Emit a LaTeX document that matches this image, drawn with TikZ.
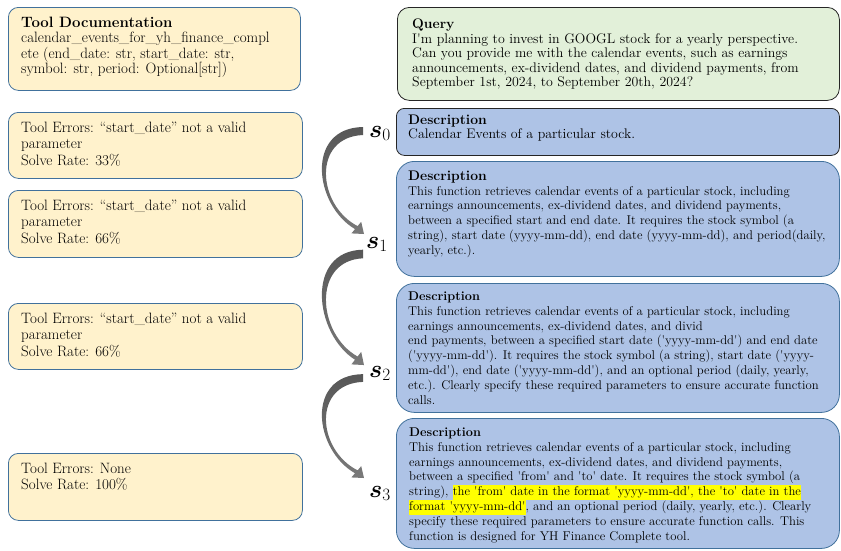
\documentclass[tikz,border=0pt]{standalone}
\usepackage{amsmath}
\usetikzlibrary{calc}
\definecolor{yfill}{HTML}{FFF2CC}
\definecolor{bline}{HTML}{41719C}
\definecolor{qfill}{HTML}{E2F0D9}
\definecolor{dfill}{HTML}{AEC3E6}
\definecolor{dkline}{HTML}{262626}
\definecolor{arrA}{HTML}{575757}
\definecolor{arrB}{HTML}{9C9C9C}
\definecolor{arrC}{HTML}{7A7A7A}
\definecolor{hlyellow}{HTML}{FFFF00}
\newcommand\sq{\textquotesingle}
\newcommand\hlt[1]{{\setlength{\fboxsep}{0pt}\colorbox{hlyellow}{\strut #1}}}
\newcommand\grayarrow[2]{%
  \begin{scope}[shift={#1}, yscale=#2]
    \shade[top color=arrA, middle color=arrB, bottom color=arrC]
      (0,-4) .. controls (-58,-3) and (-49,74) .. (-8,98.1)
      -- (-11.6,102.4) -- (1,103) -- (-1.8,90.8) -- (-5.4,95.1)
      .. controls (-46,74) and (-51,6) .. (0,4) -- cycle;
  \end{scope}}
\begin{document}
\begin{tikzpicture}[x=1pt,y=-1pt,
  ybox/.style={draw=bline, fill=yfill, line width=0.8pt, rounded corners=10pt, anchor=north west, inner sep=0pt},
  qbox/.style={draw=dkline, fill=qfill, line width=0.8pt, rounded corners=12pt, anchor=north west, inner sep=0pt},
  dzbox/.style={draw=dkline, fill=dfill, line width=0.8pt, rounded corners=8pt, anchor=north west, inner sep=0pt},
  dbox/.style={draw=bline, fill=dfill, line width=0.8pt, rounded corners=18pt, anchor=north west, inner sep=0pt},
  ltext/.style={anchor=north west, inner sep=0pt, align=left, font=\fontsize{15}{16.5}\selectfont},
  qtext/.style={anchor=north west, inner sep=0pt, align=left, font=\fontsize{13.9}{14.5}\selectfont},
  dtext/.style={anchor=north west, inner sep=0pt, align=left, font=\fontsize{12.7}{14.8}\selectfont},
  slabel/.style={anchor=base west, inner sep=0pt, font=\fontsize{24}{24}\selectfont},
]
\useasboundingbox (0,0) rectangle (841,550);

% left boxes
\node[ybox, minimum width=292pt, minimum height=83pt] (doc) at (8,7) {};
\node[ybox, minimum width=294pt, minimum height=66pt] (e1) at (8,112) {};
\node[ybox, minimum width=294pt, minimum height=67pt] (e2) at (8,190) {};
\node[ybox, minimum width=294pt, minimum height=66pt] (e3) at (8,303) {};
\node[ybox, minimum width=294pt, minimum height=67pt] (e4) at (8,453) {};

\node[ltext, font=\fontsize{15}{15.5}\selectfont] (doct) at ($(doc.north west)+(13,9.6)$)
  {\textbf{Tool Documentation}\\
   calendar\_events\_for\_yh\_finance\_compl\\
   ete (end\_date: str, start\_date: str,\\
   symbol: str, period: Optional[str])};
\node[ltext] (e1t) at ($(e1.north west)+(13,9.6)$)
  {Tool Errors: ``start\_date'' not a valid\\ parameter\\ Solve Rate: 33\%};
\node[ltext] (e2t) at ($(e2.north west)+(13,9.6)$)
  {Tool Errors: ``start\_date'' not a valid\\ parameter\\ Solve Rate: 66\%};
\node[ltext] (e3t) at ($(e3.north west)+(13,9.6)$)
  {Tool Errors: ``start\_date'' not a valid\\ parameter\\ Solve Rate: 66\%};
\node[ltext] (e4t) at ($(e4.north west)+(13,9.6)$)
  {Tool Errors: None\\ Solve Rate: 100\%};

% right boxes
\node[qbox, minimum width=442pt, minimum height=93pt] (q) at (397,7) {};
\node[dzbox, minimum width=443pt, minimum height=47pt] (d0) at (396,108) {};
\node[dbox, minimum width=443pt, minimum height=115pt] (d1) at (396,161) {};
\node[dbox, minimum width=443pt, minimum height=129pt] (d2) at (396,283) {};
\node[dbox, minimum width=443pt, minimum height=130pt] (d3) at (396,418) {};

\node[qtext] (qt) at (412,18.6)
  {\textbf{Query}\\
   I\sq m planning to invest in GOOGL stock for a yearly perspective.\\
   Can you provide me with the calendar events, such as earnings\\
   announcements, ex-dividend dates, and dividend payments, from\\
   September 1st, 2024, to September 20th, 2024?};
\node[qtext] (d0t) at (408,114.6)
  {\textbf{Description}\\ Calendar Events of a particular stock.};
\node[dtext] (d1t) at (408,170.6)
  {{\fontsize{13.9}{14.8}\selectfont\textbf{Description}}\\
   This function retrieves calendar events of a particular stock, including\\
   earnings announcements, ex-dividend dates, and dividend payments,\\
   between a specified start and end date. It requires the stock symbol (a\\
   string), start date (yyyy-mm-dd), end date (yyyy-mm-dd), and period(daily,\\
   yearly, etc.).};
\node[dtext] (d2t) at (408,291.5)
  {\textbf{Description}\\
   This function retrieves calendar events of a particular stock, including\\
   earnings announcements, ex-dividend dates, and divid\\
   end payments, between a specified start date (\sq yyyy-mm-dd\sq) and end date\\
   (\sq yyyy-mm-dd\sq). It requires the stock symbol (a string), start date (\sq yyyy-\\
   mm-dd\sq), end date (\sq yyyy-mm-dd\sq), and an optional period (daily, yearly,\\
   etc.). Clearly specify these required parameters to ensure accurate function\\
   calls.};
\node[dtext] (d3t) at (409,427.5)
  {\textbf{Description}\\
   This function retrieves calendar events of a particular stock, including\\
   earnings announcements, ex-dividend dates, and dividend payments,\\
   between a specified \sq from\sq{} and \sq to\sq{} date. It requires the stock symbol (a\\
   string), \hlt{the \sq from\sq{} date in the format \sq yyyy-mm-dd\sq, the \sq to\sq{} date in the}\\
   \hlt{format \sq yyyy-mm-dd\sq}, and an optional period (daily, yearly, etc.). Clearly\\
   specify these required parameters to ensure accurate function calls. This\\
   function is designed for YH Finance Complete tool.};

% state labels
\node[slabel] (s0) at (369,137) {$\boldsymbol{s}_0$};
\node[slabel] (s1) at (366,248) {$\boldsymbol{s}_1$};
\node[slabel] (s2) at (369,377) {$\boldsymbol{s}_2$};
\node[slabel] (s3) at (369,497) {$\boldsymbol{s}_3$};

% arrows
\grayarrow{($(s0.base west)+(-6,-6)$)}{1}
\grayarrow{($(s1.base west)+(-3,6)$)}{1.078}
\grayarrow{($(s2.base west)+(-6,1)$)}{0.971}
\end{tikzpicture}
\end{document}
